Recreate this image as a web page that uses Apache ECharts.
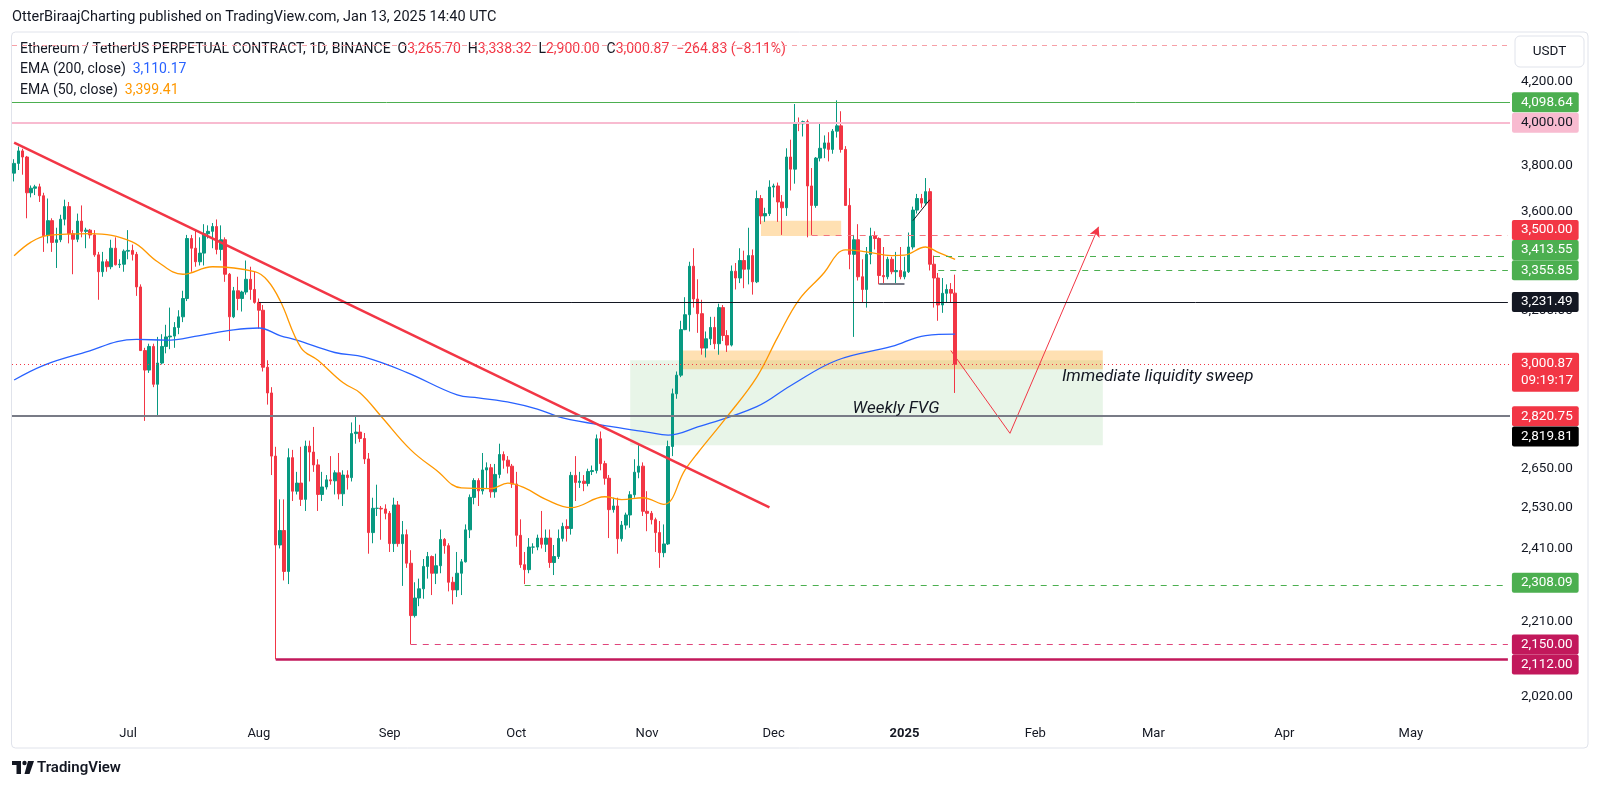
<!DOCTYPE html>
<html>
<head>
<meta charset="utf-8">
<title>ETHUSDT 1D</title>
<script src="https://cdn.jsdelivr.net/npm/echarts@6/dist/echarts.min.js"></script>
<style>
  html, body { margin: 0; padding: 0; background: #fff; }
  #chart { width: 1600px; height: 790px; }
</style>
</head>
<body>
<div id="chart"></div>
<script>
const FONT = 'Roboto, "Noto Sans", sans-serif';
const INK = '#131722';
const UP = '#089981', DOWN = '#f23645';
const MONTHS = ['Jan', 'Feb', 'Mar', 'Apr', 'May', 'Jun', 'Jul', 'Aug', 'Sep', 'Oct', 'Nov', 'Dec'];

// time axis: one slot per day, 2024-06-04 .. 2025-05-24
const days = [];
for (let i = 0; i < 355; i++) {
    days.push(new Date(Date.UTC(2024, 5, 4 + i)).toISOString().slice(0, 10));
}

// daily candles, rows are [open, close, low, high]
const candlesJun = [
    [3767,3811,3730,3830],[3811,3868,3781,3888],[3868,3840,3760,3878],[3840,3680,3570,3845],
    [3680,3700,3660,3712],[3700,3706,3670,3715],[3706,3667,3640,3720],[3667,3497,3430,3680],
    [3497,3560,3465,3655],[3560,3469,3430,3570],[3469,3480,3365,3530],[3480,3566,3470,3585],
    [3566,3620,3540,3650],[3620,3505,3465,3640],[3505,3482,3340,3520],[3482,3558,3470,3590],
    [3558,3515,3490,3625],[3515,3520,3445,3530],[3520,3500,3485,3525],[3500,3418,3410,3520],
    [3418,3350,3240,3430],[3350,3390,3330,3430],[3390,3370,3350,3400],[3370,3445,3360,3480],
    [3445,3378,3375,3490],[3378,3380,3365,3400],[3380,3433,3350,3440]
];
const candlesJul = [
    [3433,3436,3400,3520],[3436,3420,3395,3460],[3420,3290,3255,3430],[3290,3050,3050,3300],
    [3050,2980,2805,3060],[2980,3065,2970,3075],[3065,2930,2920,3075],[2930,3005,2820,3100],
    [3005,3065,3000,3110],[3065,3100,3040,3145],[3100,3103,3055,3210],[3103,3135,3060,3155],
    [3135,3175,3110,3200],[3175,3245,3155,3275],[3245,3485,3235,3500],[3485,3445,3350,3500],
    [3445,3390,3370,3520],[3390,3425,3375,3490],[3425,3505,3375,3545],[3505,3515,3485,3540],
    [3515,3535,3445,3550],[3535,3440,3420,3565],[3440,3480,3395,3540],[3480,3340,3310,3490],
    [3340,3175,3085,3345],[3175,3275,3170,3290],[3275,3245,3200,3330],[3245,3270,3195,3275],
    [3270,3320,3260,3395],[3320,3280,3240,3370],[3280,3230,3225,3350]
];
const candlesAug = [
    [3230,3200,3130,3245],[3200,2990,2975,3220],[2990,2900,2860,3015],[2900,2690,2630,2920],
    [2690,2420,2112,2720],[2420,2462,2410,2555],[2462,2345,2320,2555],[2345,2685,2310,2715],
    [2685,2580,2550,2710],[2580,2605,2570,2640],[2605,2555,2535,2720],[2555,2722,2520,2740],
    [2722,2703,2610,2740],[2703,2662,2640,2785],[2662,2570,2520,2680],[2570,2593,2550,2640],
    [2593,2615,2585,2630],[2615,2612,2600,2690],[2612,2637,2570,2645],[2637,2572,2555,2700],
    [2572,2630,2535,2645],[2630,2622,2585,2645],[2622,2763,2610,2800],[2763,2768,2730,2820],
    [2768,2747,2735,2792],[2747,2681,2665,2765],[2681,2456,2395,2700],[2456,2528,2425,2560],
    [2528,2528,2505,2600],[2528,2526,2435,2535],[2526,2513,2495,2540]
];
const candlesSep = [
    [2513,2424,2400,2520],[2424,2538,2400,2560],[2538,2424,2415,2550],[2424,2450,2305,2490],
    [2450,2368,2355,2465],[2368,2225,2150,2405],[2225,2272,2220,2315],[2272,2297,2250,2325],
    [2297,2359,2270,2380],[2359,2387,2325,2400],[2387,2340,2280,2390],[2340,2361,2310,2395],
    [2361,2436,2340,2465],[2436,2418,2395,2440],[2418,2315,2290,2425],[2315,2294,2255,2330],
    [2294,2340,2275,2400],[2340,2372,2280,2380],[2372,2464,2370,2480],[2464,2561,2440,2570],
    [2561,2613,2540,2620],[2613,2581,2535,2620],[2581,2646,2570,2700],[2646,2653,2590,2670],
    [2653,2578,2560,2665],[2578,2632,2560,2665],[2632,2695,2620,2730],[2695,2677,2650,2705],
    [2677,2658,2635,2690],[2658,2602,2590,2665]
];
const candlesOct = [
    [2602,2448,2415,2640],[2448,2364,2355,2495],[2364,2350,2310,2400],[2350,2414,2340,2440],
    [2414,2414,2395,2425],[2414,2440,2405,2450],[2440,2422,2410,2520],[2422,2440,2400,2465],
    [2440,2370,2355,2465],[2370,2387,2335,2420],[2387,2439,2380,2465],[2439,2474,2430,2485],
    [2474,2468,2430,2495],[2468,2629,2450,2640],[2629,2607,2550,2690],[2607,2611,2590,2640],
    [2611,2604,2580,2630],[2604,2641,2595,2650],[2641,2644,2630,2660],[2644,2746,2635,2760],
    [2746,2666,2645,2770],[2666,2620,2600,2675],[2620,2524,2440,2630],[2524,2535,2515,2560],
    [2535,2438,2395,2560],[2438,2478,2430,2490],[2478,2508,2465,2515],[2508,2569,2470,2580],
    [2569,2639,2560,2680],[2639,2658,2620,2725],[2658,2519,2505,2670]
];
const candlesNov = [
    [2519,2513,2460,2580],[2513,2494,2480,2520],[2494,2456,2400,2500],[2456,2398,2355,2490],
    [2398,2423,2385,2480],[2423,2721,2420,2740],[2721,2897,2690,2915],[2897,2962,2880,2975],
    [2962,3127,2955,3160],[3127,3183,3125,3250],[3183,3372,3120,3390],[3372,3243,3210,3445],
    [3243,3187,3115,3320],[3187,3059,3035,3240],[3059,3093,3025,3120],[3093,3135,3070,3175],
    [3135,3075,3055,3175],[3075,3210,3035,3225],[3210,3105,3085,3220],[3105,3070,3045,3125],
    [3070,3352,3065,3375],[3352,3325,3280,3385],[3325,3395,3305,3445],[3395,3360,3285,3435],
    [3360,3415,3300,3530],[3415,3310,3260,3440],[3310,3655,3305,3690],[3655,3580,3545,3670],
    [3580,3590,3555,3615],[3590,3705,3580,3735]
];
const candlesDec = [
    [3705,3710,3660,3720],[3710,3640,3555,3725],[3640,3615,3500,3670],[3615,3840,3580,3880],
    [3840,3785,3690,3920],[3785,4000,3720,4090],[4000,3995,3960,4025],[3995,4005,3935,4010],
    [4005,3710,3490,4015],[3710,3625,3500,3790],[3625,3835,3615,3840],[3835,3880,3820,3995],
    [3880,3905,3835,3940],[3905,3875,3820,3955],[3875,3960,3855,3970],[3960,3985,3930,4108],
    [3985,3875,3860,4055],[3875,3625,3625,3890],[3625,3420,3360,3700],[3420,3480,3100,3500],
    [3480,3330,3315,3545],[3330,3280,3230,3400],[3280,3420,3210,3450],[3420,3495,3380,3530],
    [3495,3485,3440,3515],[3485,3335,3300,3490],[3335,3330,3300,3450],[3330,3400,3320,3410],
    [3400,3350,3340,3410],[3350,3355,3300,3430],[3355,3330,3320,3450]
];
const candlesJan = [
    [3330,3350,3320,3410],[3350,3450,3345,3510],[3450,3605,3440,3620],[3605,3655,3590,3675],
    [3655,3635,3615,3675],[3635,3685,3625,3745],[3685,3380,3355,3700],[3380,3325,3210,3415],
    [3325,3220,3160,3345],[3220,3265,3190,3325],[3265,3280,3230,3300],[3280,3265.70,3230,3305],
    [3265.70,3000.87,2900,3338.32]
];
const candles = [].concat(candlesJun, candlesJul, candlesAug, candlesSep,
    candlesOct, candlesNov, candlesDec, candlesJan);

// moving averages, [day, value]
const ema200 = [
    ['2024-06-04', 2945], ['2024-06-11', 2997], ['2024-06-20', 3040], ['2024-07-03', 3091],
    ['2024-07-10', 3088], ['2024-07-18', 3105], ['2024-07-26', 3126], ['2024-08-01', 3133],
    ['2024-08-06', 3105], ['2024-08-10', 3088], ['2024-08-19', 3043], ['2024-08-26', 3026],
    ['2024-09-05', 2972], ['2024-09-17', 2893], ['2024-09-22', 2883], ['2024-09-30', 2866],
    ['2024-10-06', 2845], ['2024-10-12', 2815], ['2024-10-24', 2785], ['2024-11-01', 2768],
    ['2024-11-06', 2758], ['2024-11-13', 2785], ['2024-11-27', 2853], ['2024-12-05', 2925],
    ['2024-12-16', 3015], ['2024-12-29', 3065], ['2025-01-06', 3105], ['2025-01-13', 3110.17]
];
const ema50 = [
    ['2024-06-04', 3414], ['2024-06-08', 3470], ['2024-06-12', 3498], ['2024-06-22', 3505],
    ['2024-07-02', 3471], ['2024-07-08', 3390], ['2024-07-14', 3340], ['2024-07-21', 3370],
    ['2024-07-31', 3350], ['2024-08-03', 3316], ['2024-08-06', 3238], ['2024-08-11', 3060],
    ['2024-08-15', 3015], ['2024-08-21', 2935], ['2024-08-25', 2900], ['2024-08-30', 2820],
    ['2024-09-06', 2710], ['2024-09-12', 2646], ['2024-09-18', 2590], ['2024-09-25', 2588],
    ['2024-09-29', 2605], ['2024-10-03', 2590], ['2024-10-08', 2555], ['2024-10-14', 2530],
    ['2024-10-22', 2563], ['2024-10-26', 2554], ['2024-10-31', 2560], ['2024-11-05', 2540],
    ['2024-11-10', 2646], ['2024-11-13', 2700], ['2024-11-20', 2820], ['2024-11-27', 2955],
    ['2024-12-02', 3100], ['2024-12-07', 3240], ['2024-12-13', 3347], ['2024-12-16', 3420],
    ['2024-12-18', 3438], ['2024-12-23', 3430], ['2024-12-29', 3415], ['2025-01-01', 3417],
    ['2025-01-06', 3450], ['2025-01-09', 3428], ['2025-01-13', 3399.41]
];

// price scale labels that are not hidden behind a tag
const priceTicks = [4200, 3800, 3600, 3200, 2650, 2530, 2410, 2210, 2020];

// horizontal levels and the day each one starts (null = whole width)
const levelPrices = [4388, 4098.64, 4000.00, 3500.00, 3413.55, 3355.85, 3231.49, 3000.87, 2820.75, 2819.81, 2308.09, 2150.00, 2112.00];
const levelFrom = [null, null, null, '2024-12-10', '2025-01-08', '2025-01-09', '2024-08-01', null, null, null, '2024-10-03', '2024-09-06', '2024-08-05'];
const countdown = '09:19:17';

// drawings
const trendLine = [['2024-06-04', 3906], ['2024-11-30', 2531]];
const riseLine = [['2025-01-03', 3560], ['2025-01-07', 3650]];
const baseLine = [['2024-12-26', 3303], ['2025-01-01', 3303]];
const sweepPath = [['2025-01-12', 3050], ['2025-01-26', 2764], ['2025-02-16', 3534]];
const fvgZone = [['2024-10-28', 3015], ['2025-02-17', 2725]];
const supplyZone = [['2024-11-28', 3560], ['2024-12-17', 3495]];
const demandZone = [['2024-11-09', 3050], ['2025-02-17', 2983]];
const notes = [['Weekly FVG', '2024-12-30', 2845], ['Immediate liquidity sweep', '2025-03-02', 2957]];

const fmt = v => v.toLocaleString('en-US', { minimumFractionDigits: 2, maximumFractionDigits: 2 });

const HIDDEN = { color: 'rgba(0,0,0,0)', width: 0, type: 'solid' };

// look of each level, same order as levelPrices
const levelLook = [
    { line: { color: '#f7a0a7', type: [5, 5], width: 1 } },
    { line: { color: '#4caf50', type: 'solid', width: 1 }, tag: '#4caf50' },
    { line: { color: '#f8bbd0', type: 'solid', width: 2 }, tag: '#f8bbd0', text: INK },
    { line: { color: '#f4737d', type: [6, 6], width: 1 }, tag: '#f23645', dy: -5 },
    { line: { color: '#4caf50', type: [6, 6], width: 1 }, tag: '#4caf50', dy: -6 },
    { line: { color: '#4caf50', type: [6, 6], width: 1 }, tag: '#4caf50' },
    { line: { color: INK, type: 'solid', width: 1 }, tag: INK },
    { line: { color: '#f23645', type: [1, 3], width: 1 }, tag: '#f23645', extra: countdown, dy: 8 },
    { line: { color: '#787b86', type: 'solid', width: 2 }, tag: '#f23645' },
    { line: HIDDEN, tag: '#000000', dy: 20 },
    { line: { color: '#4caf50', type: [6, 6], width: 1 }, tag: '#4caf50', dy: -2 },
    { line: { color: '#e0457b', type: [6, 6], width: 1 }, tag: '#c2185b' },
    { line: { color: '#c2185b', type: 'solid', width: 2.5 }, tag: '#c2185b', dy: 5 }
];

const tagLabel = {
    show: true, position: 'end', fontFamily: FONT, fontSize: 13.5, lineHeight: 15,
    padding: [3, 6, 2, 9], borderRadius: 2, opacity: 1
};

function levelItem(price, from, look) {
    const label = look.tag ? Object.assign({}, tagLabel, {
        distance: from ? 4 : 2,
        backgroundColor: look.tag,
        color: look.text || '#fff',
        offset: [0, look.dy || 0],
        lineHeight: look.extra ? 17 : 15,
        formatter: look.extra ? fmt(price) + '\n' + look.extra : fmt(price)
    }) : { show: false };
    if (!from) return { yAxis: price, lineStyle: look.line, label: label };
    return [{ coord: [from, price], lineStyle: look.line, label: label },
            { coord: [days[days.length - 1], price] }];
}

function segment(pts, style, arrow) {
    return [{ coord: pts[0], lineStyle: style },
            { coord: pts[1], symbol: arrow ? 'arrow' : 'none', symbolSize: [8, 10] }];
}

const sweepStyle = { color: '#f23645', width: 1, type: 'solid' };

const chart = echarts.init(document.getElementById('chart'));
chart.setOption({
    animation: false,
    backgroundColor: '#fff',
    textStyle: { fontFamily: FONT },
    grid: { left: 12, right: 90, top: 32, bottom: 70, outerBoundsMode: 'none' },
    xAxis: {
        type: 'category',
        data: days,
        boundaryGap: true,
        axisLine: { show: false },
        axisTick: { show: false },
        splitLine: { show: false },
        axisLabel: {
            interval: (i, v) => v.slice(8) === '01',
            color: INK, fontSize: 13, margin: 7,
            formatter: v => {
                const m = +v.slice(5, 7);
                return m === 1 ? '{y|' + v.slice(0, 4) + '}' : MONTHS[m - 1];
            },
            rich: { y: { fontWeight: 'bold', fontSize: 13, color: INK } }
        }
    },
    yAxis: {
        type: 'log', logBase: 10, min: 1965, max: 4456, position: 'right',
        axisLine: { show: false }, axisTick: { show: false },
        axisLabel: { show: false }, splitLine: { show: false }
    },
    series: [
        {   // zones and notes
            type: 'line', data: [], z: 1, silent: true,
            markArea: {
                silent: true,
                data: [
                    [{ coord: fvgZone[0], itemStyle: { color: 'rgba(76,175,80,0.13)' } }, { coord: fvgZone[1] }],
                    [{ coord: supplyZone[0], itemStyle: { color: 'rgba(255,152,0,0.3)' } }, { coord: supplyZone[1] }],
                    [{ coord: demandZone[0], itemStyle: { color: 'rgba(255,152,0,0.3)' } }, { coord: demandZone[1] }]
                ]
            },
            markPoint: {
                silent: true, symbol: 'circle', symbolSize: 0,
                label: { show: true, position: 'inside', color: INK, fontSize: 17, fontStyle: 'italic', fontFamily: FONT, formatter: '{b}' },
                data: notes.map(n => ({ name: n[0], coord: [n[1], n[2]] }))
            }
        },
        {   // price scale labels
            type: 'line', data: [], z: 1, silent: true,
            markLine: {
                silent: true, symbol: ['none', 'none'],
                lineStyle: HIDDEN,
                label: {
                    show: true, position: 'end', distance: 2, color: INK, fontFamily: FONT, opacity: 1,
                    fontSize: 13.5, padding: [3, 6, 2, 9], formatter: p => fmt(p.value)
                },
                data: priceTicks.map(v => ({ yAxis: v }))
            }
        },
        {
            name: 'ETHUSDT', type: 'candlestick', z: 3,
            data: candles,
            barWidth: 3,
            itemStyle: { color: UP, color0: DOWN, borderColor: UP, borderColor0: DOWN, borderWidth: 1 }
        },
        {
            name: 'EMA 200', type: 'line', z: 4, data: ema200, smooth: 0.4,
            showSymbol: false, lineStyle: { color: '#2962ff', width: 1.3 }
        },
        {
            name: 'EMA 50', type: 'line', z: 4, data: ema50, smooth: 0.4,
            showSymbol: false, lineStyle: { color: '#ff9800', width: 1.3 }
        },
        {   // drawings
            type: 'line', data: [], z: 5, silent: true,
            markLine: {
                silent: true, symbol: ['none', 'none'], label: { show: false },
                data: [
                    segment(trendLine, { color: '#f23645', width: 2.5, type: 'solid' }),
                    segment(riseLine, { color: INK, width: 1, type: 'solid' }),
                    segment(baseLine, { color: '#787b86', width: 2, type: 'solid' }),
                    segment([sweepPath[0], sweepPath[1]], sweepStyle),
                    segment([sweepPath[1], sweepPath[2]], sweepStyle, true)
                ]
            }
        },
        {   // horizontal levels with their price tags
            type: 'line', data: [], z: 6, silent: true,
            markLine: {
                silent: true, symbol: ['none', 'none'], label: { show: false },
                data: levelPrices.map((p, i) => levelItem(p, levelFrom[i], levelLook[i]))
            }
        }
    ],
    graphic: [
        { type: 'rect', silent: true, shape: { x: 11.5, y: 32, width: 1576.5, height: 716, r: 4 },
          style: { fill: 'none', stroke: '#e0e3eb', lineWidth: 1 } },
        { type: 'text', x: 12, y: 17, style: {
            text: 'OtterBiraajCharting published on TradingView.com, Jan 13, 2025 14:40 UTC',
            fill: INK, fontSize: 14.5, fontFamily: FONT, verticalAlign: 'middle' } },
        { type: 'text', x: 20, y: 49, style: {
            text: '{n|Ethereum / TetherUS PERPETUAL CONTRACT, 1D, BINANCE}  {n|O}{v|3,265.70}  {n|H}{v|3,338.32}  {n|L}{v|2,900.00}  {n|C}{v|3,000.87}  {v|\u2212264.83 (\u22128.11%)}',
            verticalAlign: 'middle', fontFamily: FONT, fontSize: 14,
            rich: { n: { fill: INK, fontSize: 14, fontFamily: FONT }, v: { fill: '#f23645', fontSize: 14, fontFamily: FONT } } } },
        { type: 'text', x: 20, y: 69.5, style: {
            text: '{n|EMA (200, close)}  {v|3,110.17}', verticalAlign: 'middle', fontFamily: FONT, fontSize: 14,
            rich: { n: { fill: INK, fontSize: 14, fontFamily: FONT }, v: { fill: '#2962ff', fontSize: 14, fontFamily: FONT } } } },
        { type: 'text', x: 20, y: 90, style: {
            text: '{n|EMA (50, close)}  {v|3,399.41}', verticalAlign: 'middle', fontFamily: FONT, fontSize: 14,
            rich: { n: { fill: INK, fontSize: 14, fontFamily: FONT }, v: { fill: '#ff9800', fontSize: 14, fontFamily: FONT } } } },
        { type: 'rect', shape: { x: 1515, y: 36, width: 69, height: 31, r: 5 },
          style: { fill: '#fff', stroke: '#e0e3eb', lineWidth: 1 } },
        { type: 'text', x: 1549.5, y: 51.5, style: {
            text: 'USDT', fill: INK, fontSize: 13.5, fontFamily: FONT, align: 'center', verticalAlign: 'middle' } },
        // TradingView mark
        { type: 'rect', shape: { x: 12, y: 761, width: 9, height: 4 }, style: { fill: INK } },
        { type: 'rect', shape: { x: 16.5, y: 761, width: 4.5, height: 13 }, style: { fill: INK } },
        { type: 'circle', shape: { cx: 24.5, cy: 763, r: 2.2 }, style: { fill: INK } },
        { type: 'polygon', shape: { points: [[28, 761], [34, 761], [29.5, 774], [24.5, 774]] }, style: { fill: INK } },
        { type: 'text', x: 37, y: 768, style: {
            text: 'TradingView', fill: INK, fontSize: 15, fontWeight: 600, fontFamily: FONT, verticalAlign: 'middle' } }
    ]
});
</script>
</body>
</html>
